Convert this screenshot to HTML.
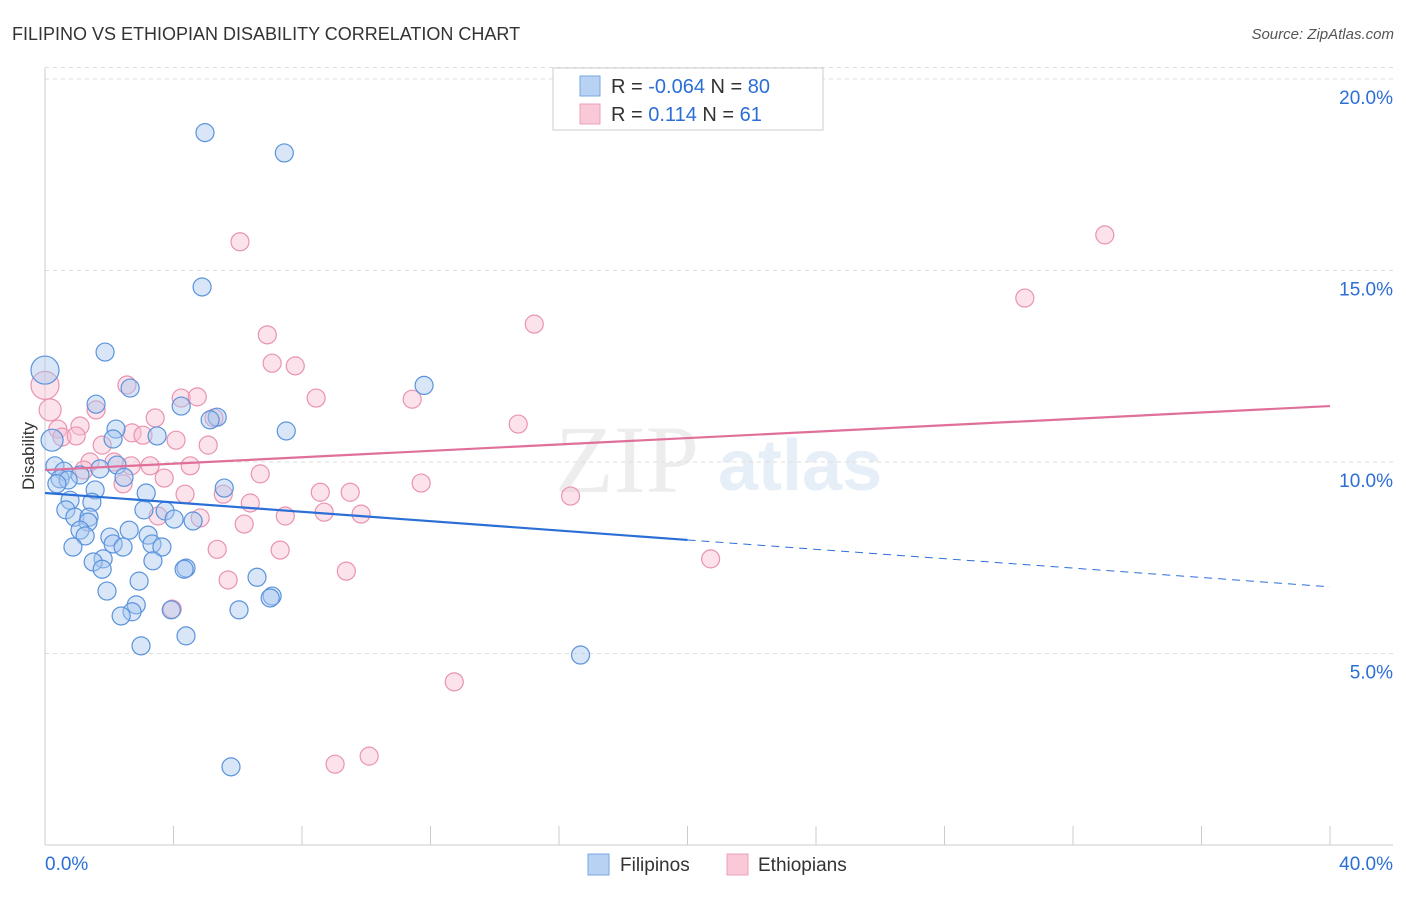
<!DOCTYPE html>
<html><head><meta charset="utf-8"><style>
body{margin:0;background:#fff;font-family:"Liberation Sans",sans-serif}
</style></head><body>
<svg width="1406" height="892" xmlns="http://www.w3.org/2000/svg" font-family="Liberation Sans, sans-serif">
<text x="12" y="40" font-size="18" fill="#333">FILIPINO VS ETHIOPIAN DISABILITY CORRELATION CHART</text>
<text x="1394" y="39" font-size="15" fill="#555" font-style="italic" text-anchor="end">Source: ZipAtlas.com</text>
<g opacity="0.5">
<text x="555" y="492" font-size="96" font-family="Liberation Serif, serif" fill="#ddd">ZIP</text>
<text x="718" y="490" font-size="72" fill="#cfdff2" font-weight="bold">atlas</text>
</g>
<g id="grid"></g>
<g id="axes"></g>
<g id="dots"></g>
<g id="trends"></g>
<text transform="translate(34,456) rotate(-90)" font-size="17" fill="#333" text-anchor="middle">Disability</text>
<g>
<rect x="553" y="68" width="270" height="62" fill="#fff" stroke="#ccc"/>
<rect x="580" y="76" width="20" height="20" fill="#b8d2f4" stroke="#7aa7e0"/>
<rect x="580" y="104" width="20" height="20" fill="#fac9d8" stroke="#eea0b9"/>
<text x="611" y="93" font-size="20" fill="#333">R = <tspan fill="#2b6fd6">-0.064</tspan>   N = <tspan fill="#2b6fd6">80</tspan></text>
<text x="611" y="121" font-size="20" fill="#333">R =    <tspan fill="#2b6fd6">0.114</tspan>   N =  <tspan fill="#2b6fd6">61</tspan></text>
</g>
<g>
<rect x="588" y="854" width="21" height="21" fill="#b8d2f4" stroke="#7aa7e0"/>
<text x="620" y="871" font-size="19" fill="#333">Filipinos</text>
<rect x="727" y="854" width="21" height="21" fill="#fac9d8" stroke="#eea0b9"/>
<text x="758" y="871" font-size="19" fill="#333">Ethiopians</text>
</g>
</svg>
<script>
const yTicks=[5,10,15,20];
const yTickLabels=["5.0%","10.0%","15.0%","20.0%"];
const xTickLabels=["0.0%","40.0%"];
const blueX=[4.98,7.45,4.89,1.87,0,11.8,2.65,1.59,4.24,5.36,5.14,2.21,7.51,0.22,3.49,2.12,0.31,0.59,1.71,2.24,1.09,0.47,0.72,0.37,2.46,1.56,3.15,5.58,0.78,1.46,3.08,0.65,3.74,0.93,1.37,4.02,4.61,1.34,1.09,2.62,3.21,2.02,1.25,2.12,3.33,3.64,0.87,2.43,1.81,1.50,3.36,4.39,4.33,1.78,6.6,2.93,1.93,7.07,7.01,2.84,6.04,3.93,2.71,2.37,4.39,2.99,16.67,5.79];
const blueY=[18.6,18.07,14.57,12.87,12.4,12.0,11.93,11.51,11.46,11.17,11.1,10.86,10.81,10.57,10.68,10.6,9.9,9.76,9.82,9.92,9.66,9.56,9.53,9.43,9.6,9.27,9.19,9.32,9.0,8.95,8.75,8.75,8.72,8.56,8.56,8.51,8.46,8.43,8.22,8.22,8.09,8.04,8.07,7.86,7.86,7.78,7.78,7.78,7.47,7.39,7.42,7.23,7.2,7.2,6.99,6.89,6.63,6.5,6.45,6.27,6.14,6.14,6.09,5.98,5.46,5.2,4.96,2.04];
const blueR=[9,9,9,9,14,9,9,9,9,9,9,9,9,11,9,9,9,9,9,9,9,9,9,9,9,9,9,9,9,9,9,9,9,9,9,9,9,9,9,9,9,9,9,9,9,9,9,9,9,9,9,9,9,9,9,9,9,9,9,9,9,9,9,9,9,9,9,9];
const pinkX=[32.99,6.07,30.5,15.23,6.92,7.07,7.79,0,2.55,4.24,4.74,8.44,11.43,1.59,0.16,5.26,3.43,14.73,1.09,0.40,0.53,0.97,2.71,3.05,4.08,1.78,5.08,2.15,1.40,3.27,2.68,4.52,6.7,1.21,3.71,2.43,11.71,8.57,9.5,4.36,5.55,6.39,16.36,8.69,9.84,3.52,4.83,7.48,6.2,5.36,7.32,9.38,5.7,20.72,3.96,12.74,9.03,10.09];
const pinkY=[15.93,15.75,14.28,13.6,13.32,12.58,12.51,12.0,12.01,11.67,11.7,11.67,11.64,11.36,11.36,11.15,11.15,10.99,10.94,10.86,10.65,10.68,10.76,10.7,10.57,10.44,10.44,10.0,10.0,9.9,9.9,9.9,9.69,9.79,9.58,9.43,9.45,9.21,9.21,9.16,9.16,8.93,9.11,8.69,8.64,8.59,8.54,8.59,8.38,7.72,7.7,7.15,6.92,7.47,6.16,4.26,2.11,2.32];
const pinkR=[9,9,9,9,9,9,9,14,9,9,9,9,9,9,11,9,9,9,9,9,9,9,9,9,9,9,9,9,9,9,9,9,9,9,9,9,9,9,9,9,9,9,9,9,9,9,9,9,9,9,9,9,9,9,9,9,9,9];
const blueTrend=[9.19,6.74], pinkTrend=[9.79,11.46];
const NS="http://www.w3.org/2000/svg";
const X=v=>45+v*32.125, Y=v=>845-v*38.3;
function mk(p,t,a){const e=document.createElementNS(NS,t);for(const k in a)e.setAttribute(k,a[k]);p.appendChild(e);return e;}
const grid=document.getElementById('grid'),axes=document.getElementById('axes'),dots=document.getElementById('dots'),tr=document.getElementById('trends');
yTicks.forEach((t,i)=>{
 const l=mk(grid,'line',{x1:45,x2:1393,y1:Y(t),y2:Y(t),stroke:'#ddd','stroke-dasharray':'4,4'});
 
 
 const tx=mk(axes,'text',{x:1393,y:Y(t)+25,'font-size':19,fill:'#2b6fd6','text-anchor':'end'});
 tx.textContent=yTickLabels[i];
 
 
});
const g2=mk(grid,'line',{x1:45,x2:1393,y1:Y(20.3)-0,y2:Y(20.3),stroke:'#ddd','stroke-dasharray':'4,4'});
mk(axes,'line',{x1:45,x2:45,y1:68,y2:845,stroke:'#ccc'});
mk(axes,'line',{x1:45,x2:1393,y1:845,y2:845,stroke:'#ccc'});
for(let i=0;i<=10;i++){const t=mk(axes,'line',{x1:X(i*4),x2:X(i*4),y1:826,y2:845,stroke:'#ccc'});
 
 }
[[0,'start',45],[40,'end',1393]].forEach((d,i)=>{const t=mk(axes,'text',{x:d[2],y:870,'font-size':19,fill:'#2b6fd6','text-anchor':d[1]});t.textContent=xTickLabels[i];
 
 });
function drawDots(xs,ys,rs,fill,stroke,name){xs.forEach((x,i)=>{const c=mk(dots,'circle',{cx:X(x),cy:Y(ys[i]),r:rs[i],fill:fill,'fill-opacity':0.45,stroke:stroke,'stroke-width':1.2});
 
 });}
drawDots(pinkX,pinkY,pinkR,'#f8bfd1','#e993b0','ethiopian-point');
drawDots(blueX,blueY,blueR,'#a9c8f0','#5a93dc','filipino-point');
const bm=blueTrend[0]+(blueTrend[1]-blueTrend[0])*20/40;
let l1=mk(tr,'line',{x1:X(0),y1:Y(blueTrend[0]),x2:X(20),y2:Y(bm),stroke:'#2b6fd6','stroke-width':2.2});


let l2=mk(tr,'line',{x1:X(20),y1:Y(bm),x2:X(40),y2:Y(blueTrend[1]),stroke:'#2b6fd6','stroke-width':1,'stroke-dasharray':'8,6'});


let l3=mk(tr,'line',{x1:X(0),y1:Y(pinkTrend[0]),x2:X(40),y2:Y(pinkTrend[1]),stroke:'#e0709a','stroke-width':2.2});


</script>
</body></html>
